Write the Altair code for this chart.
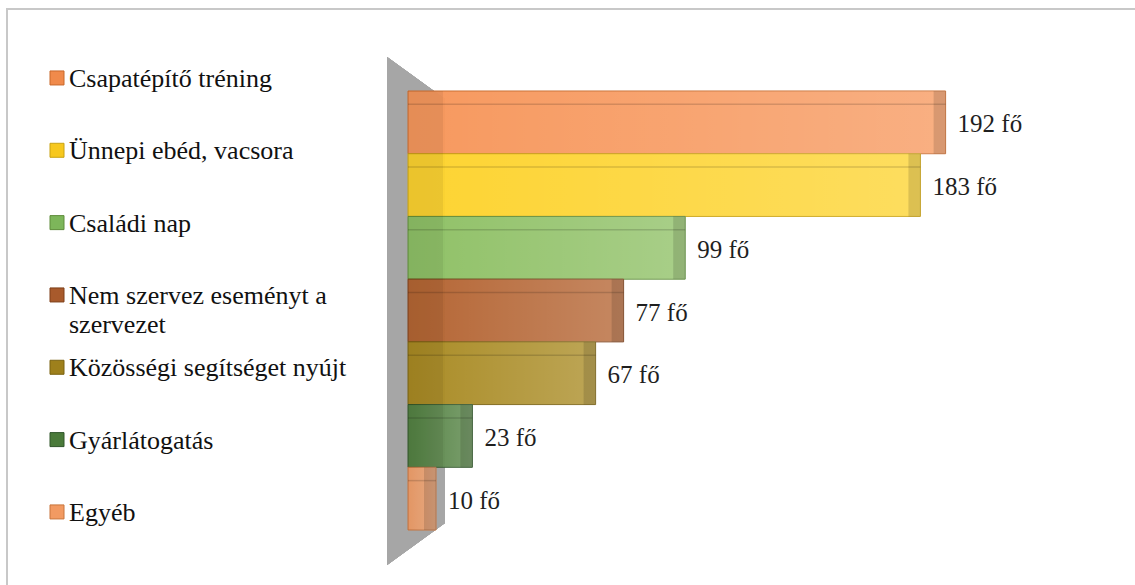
import altair as alt
import pandas as pd

categories = [
    "Csapatépítő tréning",
    "Ünnepi ebéd, vacsora",
    "Családi nap",
    "Nem szervez eseményt a szervezet",
    "Közösségi segítséget nyújt",
    "Gyárlátogatás",
    "Egyéb",
]
values = [192, 183, 99, 77, 67, 23, 10]
legend_line1 = [
    "Csapatépítő tréning",
    "Ünnepi ebéd, vacsora",
    "Családi nap",
    "Nem szervez eseményt a",
    "Közösségi segítséget nyújt",
    "Gyárlátogatás",
    "Egyéb",
]
legend_line2 = ["", "", "", "szervezet", "", "", ""]
fill_colors = ["#F7965A", "#FDD32C", "#8DC063", "#B3622F", "#A8891F", "#507F3E", "#F5A06A"]
stroke_colors = ["#C8682A", "#C9A212", "#5E8C3A", "#7E3F18", "#7A6210", "#30562A", "#C8743C"]
legend_fill = ["#F08A4B", "#F7C81E", "#7DB65A", "#A85A2C", "#9E801C", "#4A7A3A", "#F29A62"]

df = pd.DataFrame({
    "cat": categories,
    "value": values,
    "leg": categories,
    "line1": legend_line1,
    "line2": legend_line2,
})
df["label"] = df["value"].astype(str) + " fő"

FONT = "Liberation Serif"
W, H = 700, 439
PL, PT = 408, 91

y_bar = alt.Y("cat:N", sort=categories, scale=alt.Scale(paddingInner=0, paddingOuter=0), axis=None)
x_val = alt.X("value:Q", scale=alt.Scale(domain=[0, 250]), axis=None)
col = alt.Color("cat:N", sort=categories, scale=alt.Scale(domain=categories, range=fill_colors), legend=None)
strk = alt.Stroke("cat:N", sort=categories, scale=alt.Scale(domain=categories, range=stroke_colors), legend=None)

base = alt.Chart(df)

# frame lines (top and left)
frame_top = base.mark_rule(color="#c8c8c8", strokeWidth=2).encode(
    x=alt.value(6 - PL), x2=alt.value(1135 - PL), y=alt.value(9 - PT)
)
frame_left = base.mark_rule(color="#c8c8c8", strokeWidth=2).encode(
    x=alt.value(7 - PL), y=alt.value(9 - PT), y2=alt.value(585 - PT)
)

# gray wall (perspective trapezoid)
wall = base.mark_point(
    shape="M-0.114,-1L0.114,-0.835L0.114,0.835L-0.114,1Z",
    filled=True, fill="#a6a6a6", opacity=1, strokeWidth=0, size=258064,
).encode(x=alt.value(8), y=alt.value(220))

bars = base.mark_bar(strokeWidth=1, opacity=0.97).encode(
    x=x_val, y=y_bar, color=col, stroke=strk
)

shine = base.mark_bar(
    color=alt.Gradient(
        gradient="linear",
        stops=[
            alt.GradientStop(color="rgba(255,255,255,0)", offset=0),
            alt.GradientStop(color="rgba(255,255,255,0.22)", offset=1),
        ],
        x1=0, x2=1, y1=0, y2=0,
    )
).encode(x=x_val, y=y_bar)

left_face = base.transform_calculate(zero="0", lf="min(datum.value, 12.5)").mark_rect(
    color="#000000", opacity=0.06
).encode(x=alt.X("zero:Q", scale=alt.Scale(domain=[0, 250]), axis=None), x2="lf:Q", y=y_bar)

top_edge = base.mark_bar(height=1.5, yOffset=-18, color="#000000", opacity=0.15).encode(
    x=x_val, y=y_bar
)

right_face = base.mark_rect(xOffset=-12, color="#000000", opacity=0.13).encode(
    x=x_val, x2="value:Q", y=y_bar
)

labels = base.mark_text(
    align="left", baseline="middle", dx=12, dy=2, font=FONT, fontSize=25, color="#1f1f1f"
).encode(x=x_val, y=y_bar, text="label:N")

# manual legend
y_leg = alt.Y("leg:N", sort=categories,
              scale=alt.Scale(domain=categories, range=[-49.2, 457.1], paddingInner=0, paddingOuter=0),
              axis=None)
leg_sq = base.mark_square(size=196, filled=True, opacity=1, strokeWidth=1).encode(
    x=alt.value(57 - PL), y=y_leg,
    color=alt.Color("leg:N", sort=categories, scale=alt.Scale(domain=categories, range=legend_fill), legend=None),
    stroke=alt.Stroke("leg:N", sort=categories, scale=alt.Scale(domain=categories, range=stroke_colors), legend=None),
)
leg_t1 = base.mark_text(align="left", baseline="middle", dy=1, font=FONT, fontSize=26, color="#111111").encode(
    x=alt.value(69 - PL), y=y_leg, text="line1:N"
)
leg_t2 = base.mark_text(align="left", baseline="middle", dy=30, font=FONT, fontSize=26, color="#111111").encode(
    x=alt.value(69 - PL), y=y_leg, text="line2:N"
)

main = alt.layer(frame_top, frame_left, wall, bars, shine, left_face, top_edge, right_face, labels)
legend = alt.layer(leg_sq, leg_t1, leg_t2)

chart = alt.layer(main, legend).resolve_scale(
    y="independent", color="independent", stroke="independent"
).properties(
    width=W, height=H,
    autosize=alt.AutoSizeParams(type="none"),
    padding={"left": PL, "top": PT, "right": 1135 - PL - W, "bottom": 585 - PT - H},
    background="white",
).configure_view(stroke=None)

chart.save("out.html", embed_options={"renderer": "svg", "actions": False})
